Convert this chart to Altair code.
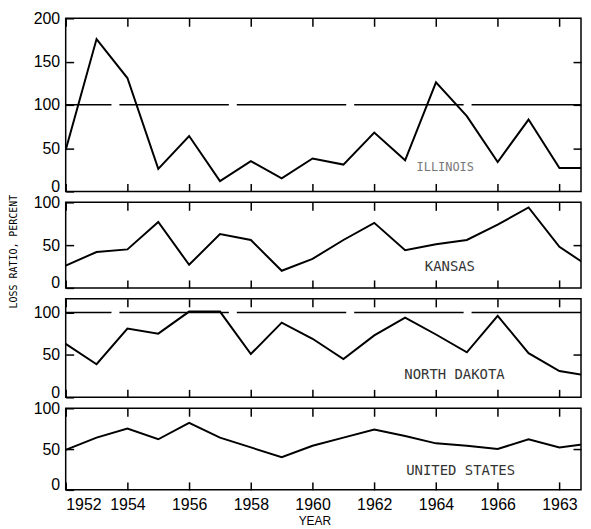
import altair as alt
import pandas as pd

# ---- data ----
years = list(range(1952, 1970))
illinois = [48, 176, 131, 26, 64, 12, 35, 15, 38, 31, 68, 36, 126, 87, 34, 83, 27, 27]
kansas = [26, 42, 45, 77, 27, 63, 56, 20, 34, 56, 76, 44, 51, 56, 74, 94, 48, 24]
north_dakota = [63, 39, 81, 75, 101, 101, 51, 88, 69, 45, 73, 94, 74, 53, 96, 52, 31, 25]
united_states = [49, 64, 75, 62, 82, 64, 52, 40, 54, 64, 74, 66, 57, 54, 50, 62, 52, 57]
panel_names = ["ILLINOIS", "KANSAS", "NORTH DAKOTA", "UNITED STATES"]
x_tick_values = [1952, 1954, 1956, 1958, 1960, 1962, 1964, 1966, 1968]
x_tick_labels = ["1952", "1954", "1956", "1958", "1960", "1962", "1964", "1966", "1963"]
reference_line = [100]

NUM_FONT = "Liberation Sans Narrow, Liberation Sans, sans-serif"
TYPE_FONT = "DejaVu Sans Mono, monospace"
W = 518
X_DOMAIN = [1952, 1968.7]

label_expr = ""
for v, t in zip(x_tick_values, x_tick_labels):
    label_expr += f"datum.value == {v} ? '{t}' : "
label_expr += "''"


def panel(values, name, height, ymax, left_ticks, right_ticks, ref, lab_x, lab_y,
          lab_color, lab_size, bottom=False, ytitle=None):
    df = pd.DataFrame({"year": years, "value": values})
    xscale = alt.Scale(domain=X_DOMAIN, nice=False, zero=False)
    yscale = alt.Scale(domain=[0, ymax], nice=False, zero=True)

    xaxis_kw = dict(orient="bottom", values=x_tick_values, labels=bottom,
                    offset=-8, tickSize=8, domain=False, grid=False,
                    labelExpr=label_expr, labelPadding=7,
                    labelFont=NUM_FONT, labelFontSize=16, labelColor="black")
    if bottom:
        xaxis_kw.update(title="YEAR", titleX=250, titleY=34, titleBaseline="top",
                        titleAlign="center", titleFont=NUM_FONT, titleFontSize=12,
                        titleFontWeight="normal", titleColor="black")
    else:
        xaxis_kw.update(title=None)

    yaxis_kw = dict(orient="left", values=left_ticks, offset=-8, tickSize=8,
                    domain=False, grid=False, labelPadding=6, labelFont=NUM_FONT,
                    labelFontSize=16, labelColor="black",
                    labelBaseline={"condition": {"test": "datum.value == 0",
                                                 "value": "alphabetic"},
                                   "value": "middle"})
    if ytitle:
        yaxis_kw.update(title=ytitle, titleX=-55, titleY=49, titleAngle=270,
                        titleBaseline="bottom", titleAlign="center",
                        titleFont=TYPE_FONT, titleFontSize=10,
                        titleFontWeight="normal", titleColor="black")
    else:
        yaxis_kw.update(title=None)

    base = alt.Chart(df)
    line = base.mark_line(color="black", strokeWidth=2, clip=True).encode(
        x=alt.X("year:Q", scale=xscale, axis=alt.Axis(**xaxis_kw)),
        y=alt.Y("value:Q", scale=yscale, axis=alt.Axis(**yaxis_kw)),
    )
    ghost = base.mark_line(opacity=0, clip=True).encode(
        x=alt.X("year:Q", scale=xscale,
                axis=alt.Axis(orient="top", values=x_tick_values, labels=False,
                              offset=-8, tickSize=8, domain=False, grid=False,
                              title=None)),
        y=alt.Y("value:Q", scale=yscale,
                axis=alt.Axis(orient="right", values=right_ticks, labels=False,
                              offset=-8, tickSize=8, domain=False, grid=False,
                              title=None)),
    )
    layers = [line, ghost]
    if ref:
        rule = alt.Chart(pd.DataFrame({"ref": reference_line})).mark_rule(
            color="black", strokeWidth=1.5, strokeDash=[110, 8]
        ).encode(y=alt.Y("ref:Q", scale=yscale, axis=None))
        layers.insert(0, rule)
    ann = alt.Chart(pd.DataFrame({"lx": [lab_x], "ly": [lab_y], "label": [name]})).mark_text(
        font=TYPE_FONT, fontSize=lab_size, color=lab_color
    ).encode(
        x=alt.X("lx:Q", scale=xscale, axis=None),
        y=alt.Y("ly:Q", scale=yscale, axis=None),
        text="label:N",
    )
    layers.append(ann)
    return alt.layer(*layers).resolve_axis(x="independent", y="independent").properties(
        width=W, height=height
    )


p1 = panel(illinois, panel_names[0], 174, 200, [0, 50, 100, 150, 200], [50, 100, 150],
           True, 1964.3, 28, "#777777", 12)
p2 = panel(kansas, panel_names[1], 86, 100, [0, 50, 100], [50], False, 1964.45, 24,
           "#333333", 14, ytitle="LOSS RATIO, PERCENT")
p3 = panel(north_dakota, panel_names[2], 99, 116, [0, 50, 100], [50], True, 1964.6, 26,
           "#333333", 14)
p4 = panel(united_states, panel_names[3], 82, 100, [0, 50, 100], [50], False, 1964.8, 23,
           "#333333", 14, bottom=True)

chart = alt.vconcat(p1, p2, p3, p4, spacing=11, bounds="flush").properties(
    padding={"left": 0, "top": 0, "right": 0, "bottom": 0}
).configure_view(stroke="black", strokeWidth=1.5).configure_axis(
    tickColor="black", tickWidth=1.5
)

chart.save("out.html", embed_options={"renderer": "svg", "actions": False})
